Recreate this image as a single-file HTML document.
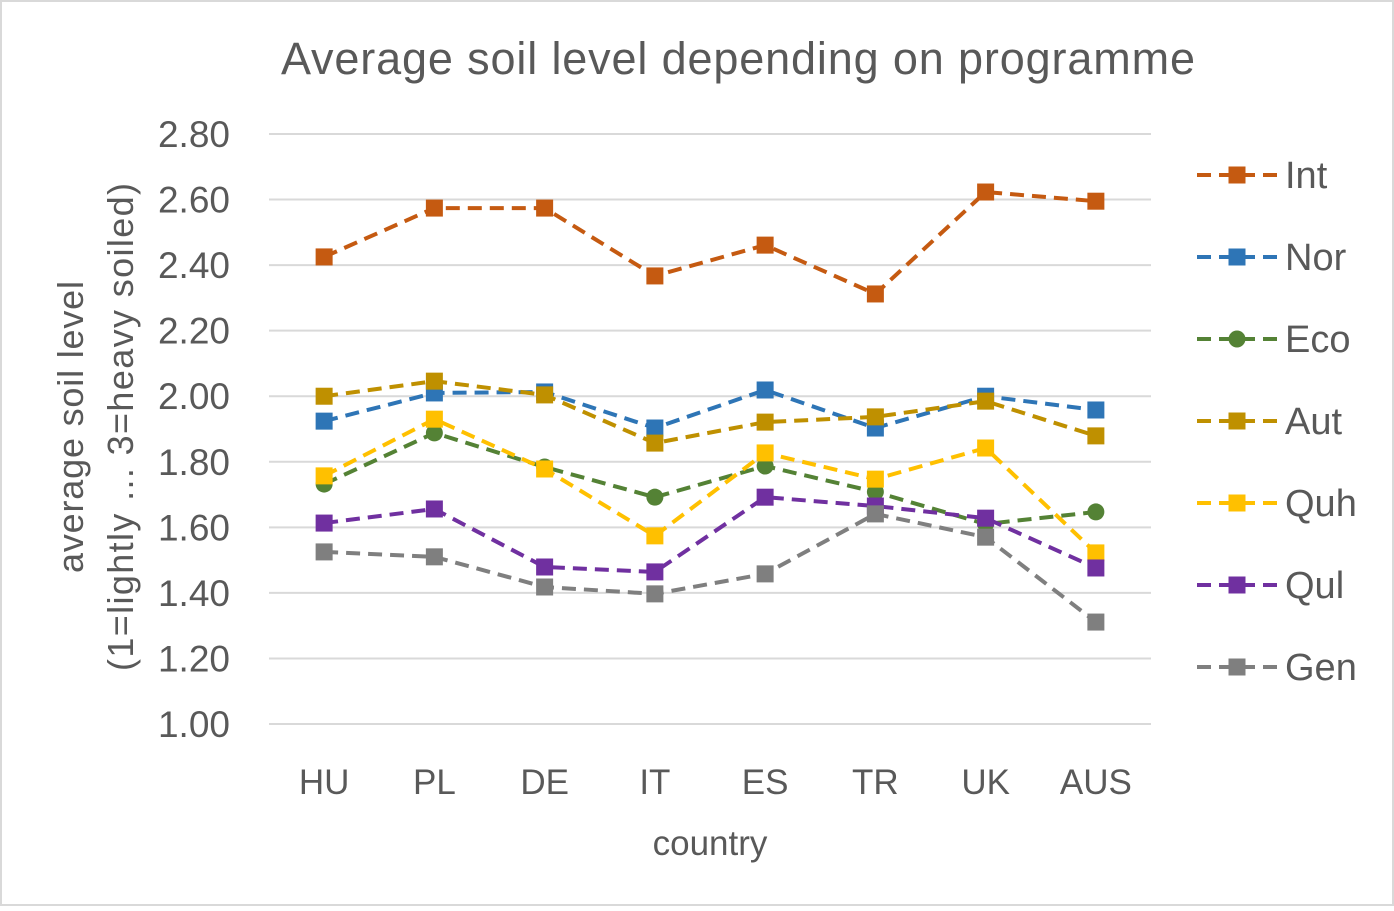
<!DOCTYPE html>
<html><head><meta charset="utf-8"><style>
html,body{margin:0;padding:0;background:#fff}
svg text{font-family:"Liberation Sans",sans-serif;fill:#595959}
</style></head><body>
<svg id="chart" width="1394" height="906" xmlns="http://www.w3.org/2000/svg">
<rect x="1" y="1" width="1392" height="904" fill="#fff" stroke="#d9d9d9" stroke-width="2"/>
<text x="738" y="74" font-size="45" text-anchor="middle" textLength="914" lengthAdjust="spacing">Average soil level depending on programme</text>
<g id="grid"></g>
<g id="yticks"></g>
<g id="xticks"></g>
<g id="series"></g>
<g id="legend"></g>
<text x="710" y="855" font-size="35" text-anchor="middle">country</text>
<g transform="translate(95,427) rotate(-90)">
<text x="0" y="-12" font-size="36" text-anchor="middle" textLength="292" lengthAdjust="spacing">average soil level</text>
<text x="0" y="38" font-size="36" text-anchor="middle" textLength="488" lengthAdjust="spacing">(1=lightly ... 3=heavy soiled)</text>
</g>
</svg>
<script>
const categories=["HU","PL","DE","IT","ES","TR","UK","AUS"];
const yTicks=[1.0,1.2,1.4,1.6,1.8,2.0,2.2,2.4,2.6,2.8];
const seriesNames=["Int","Nor","Eco","Aut","Quh","Qul","Gen"];
const intVals=[2.425,2.574,2.574,2.367,2.461,2.312,2.623,2.595];
const norVals=[1.924,2.01,2.013,1.903,2.019,1.903,2.0,1.958];
const ecoVals=[1.732,1.888,1.784,1.692,1.787,1.708,1.61,1.647];
const autVals=[2.0,2.046,2.004,1.857,1.921,1.937,1.985,1.879];
const quhVals=[1.757,1.93,1.778,1.574,1.827,1.747,1.842,1.522];
const qulVals=[1.613,1.656,1.479,1.464,1.692,1.665,1.628,1.476];
const genVals=[1.525,1.51,1.418,1.397,1.458,1.641,1.57,1.311];

const NS="http://www.w3.org/2000/svg";
const colors=["#C55A11","#2E75B6","#548235","#BF9000","#FFC000","#7030A0","#7F7F7F"];
const markers=["sq","sq","ci","sq","sq","sq","sq"];
const allVals=[intVals,norVals,ecoVals,autVals,quhVals,qulVals,genVals];
const x0=269,x1=1151,yBot=724,yTop=134,vMin=1.0,vMax=2.8;
const xS=i=>x0+(i+0.5)*(x1-x0)/categories.length;
const yS=v=>yBot-(v-vMin)/(vMax-vMin)*(yBot-yTop);
function mk(t,a,p){const e=document.createElementNS(NS,t);for(const k in a)e.setAttribute(k,a[k]);p.appendChild(e);return e;}
const grid=document.getElementById('grid'),yt=document.getElementById('yticks'),xt=document.getElementById('xticks'),sg=document.getElementById('series'),lg=document.getElementById('legend');
yTicks.forEach(v=>{
 const l=mk('line',{x1:x0,x2:x1,y1:yS(v),y2:yS(v),stroke:'#d9d9d9','stroke-width':2},grid);
 
 
 const t=mk('text',{x:230,y:yS(v)+13,'font-size':37,'text-anchor':'end'},yt);
 t.textContent=v.toFixed(2);
 
 
});
categories.forEach((c,i)=>{
 const t=mk('text',{x:xS(i),y:794,'font-size':35,'text-anchor':'middle'},xt);
 t.textContent=c;
 
 
});
function marker(type,cx,cy,col,p){
 let e;
 if(type==='ci'){e=mk('circle',{cx:cx,cy:cy,r:8.5,fill:col},p);}
 else{e=mk('rect',{x:cx-8.5,y:cy-8.5,width:17,height:17,fill:col},p);}
 return e;
}
allVals.forEach((vals,s)=>{
 const g=mk('g',{},sg);
 
 
 const pts=vals.map((v,i)=>xS(i)+','+yS(v)).join(' ');
 const pl=mk('polyline',{points:pts,fill:'none',stroke:colors[s],'stroke-width':4,'stroke-dasharray':'14 8'},g);
 
 
 vals.forEach((v,i)=>{
  const m=marker(markers[s],xS(i),yS(v),colors[s],g);
  
  
 });
 const ly=175+s*82;
 const lgE=mk('g',{},lg);
 
 
 mk('line',{x1:1197,x2:1278,y1:ly,y2:ly,stroke:colors[s],'stroke-width':4,'stroke-dasharray':'14 8'},lgE);
 marker(markers[s],1237,ly,colors[s],lgE);
 const t=mk('text',{x:1285,y:ly+13,'font-size':38},lgE);
 t.textContent=seriesNames[s];
});
</script>
</body></html>
